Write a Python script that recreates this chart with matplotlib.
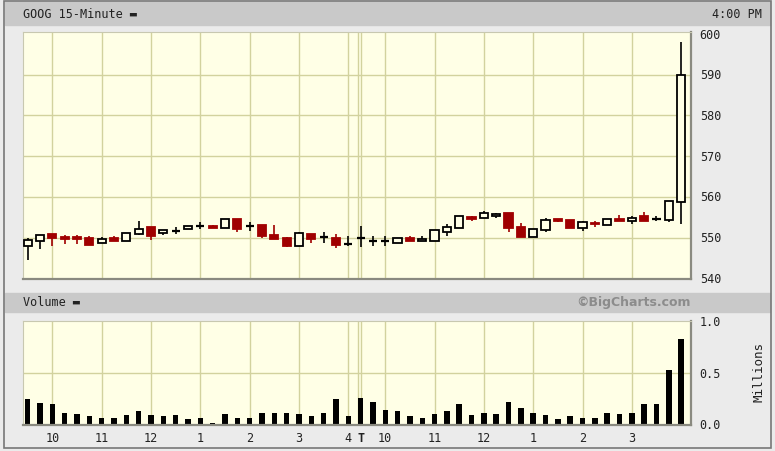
import numpy as np
import matplotlib
matplotlib.use("Agg")
import matplotlib.pyplot as plt
from matplotlib.patches import Rectangle

# 15-minute candles, two sessions (9:30 .. 16:00 each)
opens = [548.0, 549.1, 550.9, 550.1, 550.1, 549.9, 548.6, 549.8, 549.1, 550.9,
         552.5, 551.1, 551.7, 552.1, 552.9, 552.9, 552.4, 554.7, 552.9, 553.2,
         550.6, 549.8, 547.9, 550.8, 550.1, 549.8, 548.3, 549.8, 549.2, 549.2,
         548.8, 549.8, 549.3, 549.2, 551.3, 552.3, 555.0, 554.8, 555.4, 556.0,
         552.5, 550.1, 551.9, 554.7, 554.4, 552.3, 553.6, 553.1, 554.6, 554.0,
         555.2, 554.4, 554.4, 558.7]
highs = [549.8, 550.7, 551.0, 550.6, 550.7, 550.5, 550.2, 550.5, 551.1, 554.2,
         552.6, 551.9, 552.7, 552.9, 553.8, 553.2, 554.7, 554.7, 553.9, 553.2,
         553.2, 550.2, 551.5, 550.8, 551.3, 550.9, 550.5, 552.9, 550.5, 550.5,
         549.8, 550.5, 550.5, 551.9, 553.3, 555.2, 555.4, 556.5, 556.0, 556.0,
         553.5, 552.1, 554.8, 554.7, 554.4, 554.2, 554.2, 554.6, 555.5, 555.2,
         556.4, 555.3, 558.9, 598.0]
lows = [544.5, 547.1, 548.0, 548.4, 548.4, 548.2, 548.6, 549.2, 549.1, 550.6,
        549.4, 550.6, 551.0, 552.1, 552.1, 552.3, 552.4, 551.5, 551.7, 549.8,
        549.7, 547.6, 547.9, 548.8, 548.8, 547.4, 548.0, 547.6, 548.0, 548.0,
        548.8, 549.2, 549.3, 549.2, 550.5, 552.3, 554.2, 554.8, 554.9, 551.3,
        550.1, 550.1, 551.3, 553.8, 552.3, 551.7, 552.5, 553.1, 554.0, 553.4,
        554.2, 554.1, 553.9, 553.3]
closes = [549.4, 550.7, 549.8, 549.6, 549.6, 548.2, 549.6, 549.2, 551.1, 552.1,
          550.5, 551.9, 551.8, 552.9, 553.0, 552.3, 554.7, 552.1, 553.0, 550.3,
          549.7, 547.9, 551.1, 549.7, 550.2, 548.2, 548.4, 549.9, 549.3, 549.3,
          549.8, 549.2, 549.7, 551.9, 552.5, 555.2, 554.6, 556.0, 555.7, 552.3,
          550.1, 552.1, 554.4, 554.0, 552.3, 553.8, 553.3, 554.6, 554.0, 554.8,
          554.2, 554.6, 558.9, 590.0]
volumes = [0.25, 0.21, 0.20, 0.12, 0.105, 0.083, 0.07, 0.07, 0.096, 0.135,
           0.096, 0.083, 0.096, 0.058, 0.07, 0.016, 0.11, 0.07, 0.07, 0.12,
           0.12, 0.12, 0.11, 0.083, 0.12, 0.25, 0.083, 0.26, 0.225, 0.147,
           0.135, 0.083, 0.07, 0.11, 0.135, 0.20, 0.096, 0.12, 0.11, 0.225,
           0.16, 0.12, 0.096, 0.058, 0.083, 0.07, 0.07, 0.12, 0.11, 0.12,
           0.20, 0.20, 0.53, 0.83]

hour_slots = [2, 6, 10, 14, 18, 22, 26, 27, 29, 33, 37, 41, 45, 49]
hour_labels = ["10", "11", "12", "1", "2", "3", "4", "T",
               "10", "11", "12", "1", "2", "3"]
price_ticks = [540, 550, 560, 570, 580, 590, 600]
vol_ticks = [0.0, 0.5, 1.0]

BG = "#ebebeb"
PLOT_BG = "#ffffe6"
GRID = "#d2d29e"
RED = "#a00000"
MONO = ["DejaVu Sans Mono", "DejaVu Sans"]

W, H = 775, 452
fig = plt.figure(figsize=(W / 100, H / 100), dpi=100, facecolor=BG)


def fx(px):
    return px / W


def fy(py):
    return 1 - py / H


# gray header bands + outer frame
fig.patches.append(Rectangle((fx(5), fy(26)), fx(765), 23 / H, transform=fig.transFigure,
                             color="#c9c9c9", zorder=0))
fig.patches.append(Rectangle((fx(5), fy(313)), fx(765), 19 / H, transform=fig.transFigure,
                             color="#c9c9c9", zorder=0))
fig.patches.append(Rectangle((fx(4), fy(449)), fx(767), 447 / H, transform=fig.transFigure,
                             fill=False, edgecolor="#777777", lw=1.2, zorder=1))

ax = fig.add_axes([fx(23), fy(280), fx(668), 247 / H], facecolor=PLOT_BG)
axv = fig.add_axes([fx(23), fy(426), fx(668), 104 / H], facecolor=PLOT_BG)

xs = np.arange(len(opens))
xlim = (-0.38, 53.8)

for a in (ax, axv):
    a.set_xlim(*xlim)
    for s in hour_slots:
        a.axvline(s, color=GRID, lw=1.0, zorder=0)
    a.axvline(26.8, color=GRID, lw=1.0, zorder=0)
    a.set_xticks([])
    a.set_yticks([])
    for side in ("top", "left"):
        a.spines[side].set_color("#c8c8b0")
        a.spines[side].set_linewidth(0.8)
    for side in ("bottom", "right"):
        a.spines[side].set_color("#8a8a80")
        a.spines[side].set_linewidth(1.6)

# price panel
ax.set_ylim(539.85, 600.5)
for p in price_ticks[1:-1]:
    ax.axhline(p, color=GRID, lw=1.0, zorder=0)

bw = 0.66
for x, o, h, l, c in zip(xs, opens, highs, lows, closes):
    up = c >= o
    col = "black" if up else RED
    ax.vlines(x, l, h, color=col, lw=1.2, zorder=2)
    if abs(c - o) < 0.3:
        ax.hlines((o + c) / 2, x - bw / 2, x + bw / 2, color=col, lw=1.6, zorder=3)
    else:
        ax.add_patch(Rectangle((x - bw / 2, min(o, c)), bw, abs(c - o),
                               facecolor=PLOT_BG if up else RED,
                               edgecolor=col, lw=1.3, zorder=3))

for p in price_ticks:
    ax.text(1.013, (p - 539.85) / (600.5 - 539.85), str(p), transform=ax.transAxes,
            ha="left", va="center", fontsize=8.5, family=MONO, color="#222222")

# volume panel
axv.set_ylim(0, 1.005)
axv.axhline(0.5, color=GRID, lw=1.0, zorder=0)
axv.bar(xs, volumes, width=0.44, color="black", zorder=2)
for v in vol_ticks:
    axv.text(1.013, v / 1.005, f"{v:.1f}", transform=axv.transAxes,
             ha="left", va="center", fontsize=8.5, family=MONO, color="#222222")
fig.text(fx(759), fy(372), "Millions", rotation=90, ha="center", va="center",
         fontsize=9, family=MONO, color="#222222")

for s, lab in zip(hour_slots, hour_labels):
    axv.text(s, -0.06, lab, transform=axv.get_xaxis_transform(), ha="center", va="top",
             fontsize=8.5, family=MONO, color="#222222",
             fontweight="bold" if lab == "T" else "normal")

# header texts
fig.text(fx(23), fy(15), "GOOG 15-Minute \u25ac", ha="left", va="center",
         fontsize=8.5, family=MONO, color="#222222")
fig.text(fx(762), fy(15), "4:00 PM", ha="right", va="center",
         fontsize=8.5, family=MONO, color="#222222")
fig.text(fx(23), fy(303), "Volume \u25ac", ha="left", va="center",
         fontsize=8.5, family=MONO, color="#222222")
fig.text(fx(691), fy(303), "\u00a9BigCharts.com", ha="right", va="center",
         fontsize=9, fontweight="bold", color="#8c8c8c", family=["DejaVu Sans"])

fig.savefig("out.png", dpi=100, facecolor=BG)
